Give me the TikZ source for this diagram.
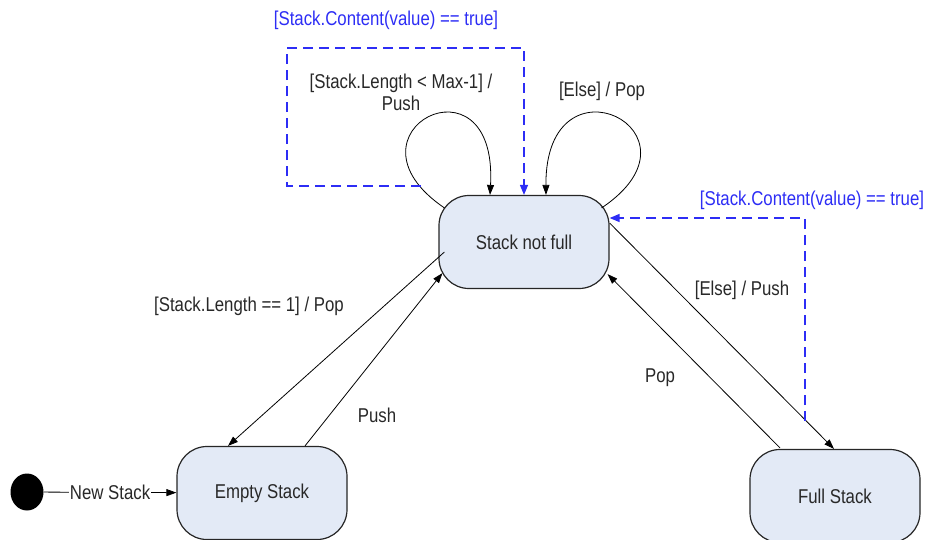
\documentclass[tikz,border=0pt]{standalone}
\usepackage{fontspec}
\setmainfont{Liberation Sans}[FakeStretch=0.84]
\usetikzlibrary{arrows.meta,calc,shapes.geometric}
\definecolor{statefill}{RGB}{227,234,246}
\definecolor{guardblue}{RGB}{45,45,245}
\definecolor{txt}{RGB}{40,40,40}
\tikzset{
  state/.style={draw=black!85, line width=1.2pt, fill=statefill, rounded corners=30pt,
    minimum width=170pt, minimum height=93pt, font=\fontsize{20}{22}\selectfont, text=txt},
  trans/.style={draw=black, line width=0.8pt, -{Triangle[length=10pt,width=7pt]}},
  guard/.style={draw=guardblue, line width=1.3pt, dash pattern=on 10pt off 6pt,
    -{Triangle[length=10pt,width=8pt]}},
  lbl/.style={font=\fontsize{20}{22}\selectfont, text=txt, align=center, inner sep=1pt},
  blbl/.style={font=\fontsize{20}{22}\selectfont, text=guardblue, inner sep=1pt}
}
\begin{document}
\begin{tikzpicture}[x=1pt,y=-1pt]
\useasboundingbox (0,0) rectangle (927,539);
% states
\node[state] (snf) at (524,242) {Stack not full};
\node[state] (es) at (262,493) {Empty Stack};
\node[state] (fs) at (835,496) {Full Stack};
\node[ellipse, fill=black, minimum width=33pt, minimum height=37pt, inner sep=0pt] (init) at (27,492) {};
% initial transition
\draw[trans] (init) -- node[lbl, fill=white] {New Stack} (es);
% self loops
\coordinate (l1s) at ($(snf.north west)+(6,13)$);
\coordinate (l1e) at ($(snf.north)+(-34,0)$);
\draw[trans] (l1s) .. controls (333,132) and (498,48) .. (l1e);
\coordinate (l2s) at ($(snf.north east)+(-8,13)$);
\coordinate (l2e) at ($(snf.north)+(22,0)$);
\draw[trans] (l2s) .. controls (715,132) and (545,48) .. (l2e);
\node[lbl] (lbl1) at (401,92) {[Stack.Length < Max-1] /\\Push};
\node[lbl] (lbl2) at (602,91) {[Else] / Pop};
% transitions between states
\draw[trans] ($(snf.west)+(6,10)$) -- ($(es.north)+(-34,0)$);
\draw[trans] ($(es.north)+(43,0)$) -- ($(snf.south west)+(4,-16)$);
\draw[trans] ($(snf.east)+(0,-19)$) -- ($(fs.north)+(-1,0)$);
\draw[trans] ($(fs.north)+(-55,-1)$) -- ($(snf.south east)+(-2,-15)$);
\node[lbl] (lpop1) at (249,306) {[Stack.Length == 1] / Pop};
\node[lbl] (lpush) at (377,415) {Push};
\node[lbl] (lelse) at (742,290) {[Else] / Push};
\node[lbl] (lpop2) at (660,378) {Pop};
% guard (dashed) transitions
\coordinate (g1s) at (421,186);
\draw[guard] (g1s) -- (287,186) -- (287,48) -- (524,48) -- (snf.north);
\coordinate (g2s) at (805,421);
\draw[guard] (g2s) -- (805,218) -- (snf.east |- 0,218);
\node[blbl] (b1) at (386,20) {[Stack.Content(value) == true]};
\node[blbl] (b2) at (812,200) {[Stack.Content(value) == true]};
\end{tikzpicture}
\end{document}
